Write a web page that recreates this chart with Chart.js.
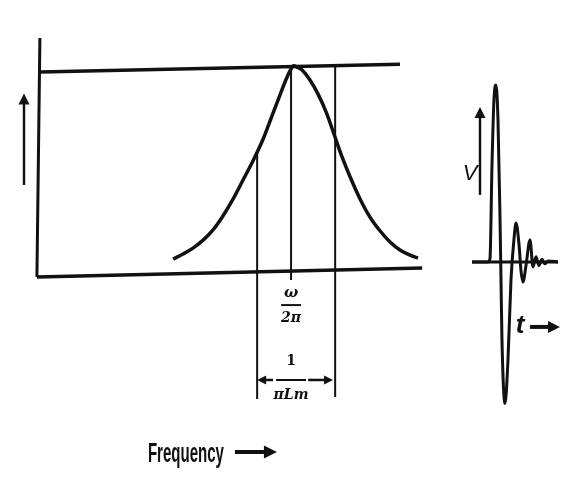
<!DOCTYPE html>
<html>
<head>
<meta charset="utf-8">
<script src="https://cdn.jsdelivr.net/npm/chart.js@4/dist/chart.umd.min.js"></script>
<style>
  html, body { margin: 0; padding: 0; background: #fff; }
  #wrap { position: relative; width: 568px; height: 488px; }
  #wrap canvas { position: absolute; left: 0; top: 0; }
</style>
</head>
<body>
<div id="wrap">
  <canvas id="resp" width="568" height="488"></canvas>
  <canvas id="pulse" width="568" height="488"></canvas>
</div>
<script>
// resonance curve: frequency (relative to w/2pi = 1) vs amplitude (peak = 1)
const curveFreq = [0.607, 0.640, 0.673, 0.707, 0.740, 0.773, 0.807, 0.840, 0.873, 0.907, 0.940, 0.967, 0.987,
                   1.007, 1.020, 1.037, 1.063, 1.090, 1.117, 1.143, 1.170, 1.197, 1.230, 1.263, 1.297, 1.330, 1.363, 1.397, 1.423];
const curveAmp  = [0.085, 0.109, 0.137, 0.175, 0.223, 0.289, 0.370, 0.460, 0.550, 0.654, 0.777, 0.877, 0.948,
                   1.000, 0.995, 0.981, 0.934, 0.867, 0.782, 0.678, 0.569, 0.474, 0.370, 0.284, 0.218, 0.166, 0.128, 0.104, 0.090];

// frame lines (the scan is slightly skewed)
const axisFreq = [0.153, 0.163];  const axisAmp = [0, 1.133];
const topFreq  = [0.163, 1.363];  const topAmp  = [0.972, 1.009];
const baseFreq = [0.153, 1.437];  const baseAmp = [0, 0.043];

// w/2pi and the two half-power lines
const markFreq   = [0.887, 1.0, 1.147];
const markTopAmp = [0.59, 1.0, 1.0];
const markLowAmp = [-0.578, -0.014, -0.569];

// damped pulse: time vs voltage
const pulseT = [-1.8, -0.2, 0.0, 0.2, 0.4, 0.6, 0.8, 1.0, 1.1, 1.2, 1.5, 1.8, 2.1, 2.4, 2.6, 2.9, 3.1, 3.3, 3.6, 4.0, 4.3, 4.6, 4.9, 5.2, 5.5, 5.8, 6.8];
const pulseV = [0, 0, 0.02, 0.55, 0.92, 1.0, 0.80, 0.25, -0.10, -0.45, -0.80, -0.55, -0.10, 0.13, 0.22, 0.10, -0.05, -0.113, -0.02, 0.124, -0.028, 0.03, -0.02, 0.015, -0.01, 0.005, 0];
const pulseBaseT = [-1.8, 6.8];

const ink = "#111";

function pts(xs, ys) { return xs.map((x, i) => ({ x: x, y: ys[i] })); }

function line(xs, ys, w, tension, mono) {
    return {
        data: pts(xs, ys), borderColor: ink, borderWidth: w,
        pointRadius: 0, fill: false,
        cubicInterpolationMode: mono ? "monotone" : "default",
        tension: tension || 0
    };
}

// arrows, texts and fraction bars drawn in data units
const drawExtras = {
    id: "extras",
    afterDatasetsDraw(chart, args, opts) {
        const ctx = chart.ctx, sx = chart.scales.x, sy = chart.scales.y;
        const X = v => sx.getPixelForValue(v), Y = v => sy.getPixelForValue(v);
        ctx.save();
        ctx.strokeStyle = ink; ctx.fillStyle = ink; ctx.lineCap = "butt";
        (opts.bars || []).forEach(b => {
            ctx.lineWidth = b.w;
            ctx.beginPath(); ctx.moveTo(X(b.x1), Y(b.y)); ctx.lineTo(X(b.x2), Y(b.y)); ctx.stroke();
        });
        (opts.arrows || []).forEach(a => {
            const x1 = X(a.x1), y1 = Y(a.y1), x2 = X(a.x2), y2 = Y(a.y2);
            const ang = Math.atan2(y2 - y1, x2 - x1), L = a.head, H = a.head * 0.5;
            ctx.lineWidth = a.w;
            ctx.beginPath(); ctx.moveTo(x1, y1);
            ctx.lineTo(x2 - Math.cos(ang) * L * 0.8, y2 - Math.sin(ang) * L * 0.8); ctx.stroke();
            ctx.beginPath();
            ctx.moveTo(x2, y2);
            ctx.lineTo(x2 - Math.cos(ang) * L - Math.sin(ang) * H, y2 - Math.sin(ang) * L + Math.cos(ang) * H);
            ctx.lineTo(x2 - Math.cos(ang) * L + Math.sin(ang) * H, y2 - Math.sin(ang) * L - Math.cos(ang) * H);
            ctx.closePath(); ctx.fill();
        });
        (opts.texts || []).forEach(t => {
            ctx.save();
            ctx.font = t.font;
            ctx.textAlign = t.align || "center";
            ctx.textBaseline = t.baseline || "middle";
            ctx.translate(X(t.x), Y(t.y));
            if (t.width) {
                // condensed type in the scan
                ctx.scale(t.width / ctx.measureText(t.text).width, 1);
            }
            ctx.fillText(t.text, 0, 0);
            ctx.restore();
        });
        ctx.restore();
    }
};

const hidden = { display: false };

new Chart(document.getElementById("resp"), {
    type: "line",
    data: {
        datasets: [
            line(curveFreq, curveAmp, 3.5, 0.35),
            line(axisFreq, axisAmp, 3),
            line(topFreq, topAmp, 3.5),
            line(baseFreq, baseAmp, 3.5),
            line([markFreq[0], markFreq[0]], [markTopAmp[0], markLowAmp[0]], 2),
            line([markFreq[1], markFreq[1]], [markTopAmp[1], markLowAmp[1]], 2),
            line([markFreq[2], markFreq[2]], [markTopAmp[2], markLowAmp[2]], 2)
        ]
    },
    options: {
        responsive: false, animation: false,
        layout: { padding: 0 },
        scales: {
            x: { type: "linear", min: 0.03, max: 1.923, display: false },
            y: { type: "linear", min: -1.0, max: 1.313, display: false }
        },
        plugins: {
            legend: hidden, tooltip: { enabled: false },
            extras: {
                bars: [
                    { x1: 0.967, x2: 1.033, y: -0.133, w: 2 },
                    { x1: 0.950, x2: 1.050, y: -0.488, w: 2 }
                ],
                arrows: [
                    { x1: 0.11, y1: 0.436, x2: 0.11, y2: 0.870, w: 2.5, head: 11 },
                    { x1: 0.940, y1: -0.488, x2: 0.887, y2: -0.488, w: 2.5, head: 9 },
                    { x1: 1.057, y1: -0.488, x2: 1.140, y2: -0.488, w: 2.5, head: 9 },
                    { x1: 0.813, y1: -0.829, x2: 0.953, y2: -0.829, w: 4, head: 13 }
                ],
                texts: [
                    { text: "ω", x: 1.0, y: -0.075, font: "italic bold 15px 'DejaVu Serif'" },
                    { text: "2π", x: 1.0, y: -0.196, font: "italic bold 14px 'DejaVu Serif'" },
                    { text: "1", x: 1.0, y: -0.400, font: "bold 14px 'DejaVu Serif'" },
                    { text: "πLm", x: 1.0, y: -0.562, font: "italic bold 14px 'DejaVu Serif'" },
                    { text: "Frequency", x: 0.523, y: -0.877, align: "left", baseline: "alphabetic", width: 76,
                      font: "bold 28px 'Liberation Sans', sans-serif" }
                ]
            }
        }
    },
    plugins: [drawExtras]
});

new Chart(document.getElementById("pulse"), {
    type: "line",
    data: {
        datasets: [
            line(pulseT, pulseV, 3, 0.4, true),
            line(pulseBaseT, [0, 0], 3)
        ]
    },
    options: {
        responsive: false, animation: false,
        layout: { padding: 0 },
        scales: {
            x: { type: "linear", min: -49, max: 7.8, display: false },
            y: { type: "linear", min: -1.277, max: 1.480, display: false }
        },
        plugins: {
            legend: hidden, tooltip: { enabled: false },
            extras: {
                arrows: [
                    { x1: -1.0, y1: 0.379, x2: -1.0, y2: 0.875, w: 2.5, head: 11 },
                    { x1: 4.0, y1: -0.367, x2: 7.0, y2: -0.367, w: 4, head: 12 }
                ],
                texts: [
                    { text: "V", x: -2.0, y: 0.50, font: "italic 22px 'Liberation Sans'" },
                    { text: "t", x: 3.0, y: -0.36, font: "italic bold 26px 'Liberation Sans'" }
                ]
            }
        }
    },
    plugins: [drawExtras]
});
</script>
</body>
</html>
